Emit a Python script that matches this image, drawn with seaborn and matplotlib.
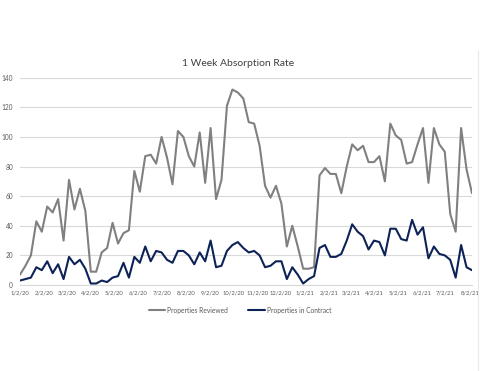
import matplotlib
matplotlib.use("Agg")
import matplotlib.pyplot as plt
from matplotlib.lines import Line2D
import seaborn as sns
import pandas as pd

start_date = "2020-01-02"
n_weeks = 84

properties_reviewed = [
    7, 13, 20, 43, 36, 53, 49, 58, 30, 71, 51, 65, 50, 9, 9, 22, 25, 42, 28, 35,
    37, 77, 63, 87, 88, 82, 100, 86, 68, 104, 100, 87, 80, 103, 69, 106, 58, 71, 121, 132,
    130, 126, 110, 109, 94, 67, 59, 67, 55, 26, 40, 26, 11, 11, 12, 74, 79, 75, 75, 62,
    80, 95, 91, 94, 83, 83, 87, 70, 109, 101, 98, 82, 83, 95, 106, 69, 106, 95, 90, 48,
    36, 106, 78, 62,
]
properties_in_contract = [
    3, 4, 5, 12, 10, 16, 8, 14, 4, 19, 14, 17, 11, 1, 1, 3, 2, 5, 6, 15,
    5, 19, 15, 26, 16, 23, 22, 17, 15, 23, 23, 20, 14, 22, 16, 30, 12, 13, 23, 27,
    29, 25, 22, 23, 20, 12, 13, 16, 16, 4, 12, 7, 1, 4, 6, 25, 27, 19, 19, 21,
    30, 41, 36, 33, 24, 30, 29, 20, 38, 38, 31, 30, 44, 34, 39, 18, 26, 21, 20, 17,
    5, 27, 12, 10,
]
series_names = ["Properties Reviewed", "Properties in Contract"]
series_colors = ["#808080", "#0d2257"]
title = "1 Week Absorption Rate"
y_ticks = [0, 20, 40, 60, 80, 100, 120, 140]

dates = pd.date_range(start_date, periods=n_weeks, freq="7D")
df = pd.concat([
    pd.DataFrame({"date": dates, "value": properties_reviewed, "series": series_names[0]}),
    pd.DataFrame({"date": dates, "value": properties_in_contract, "series": series_names[1]}),
])

sns.set_theme(style="white")
plt.rcParams["font.family"] = ["Lato", "DejaVu Sans"]

fig = plt.figure(figsize=(4.8, 3.71), dpi=100)
ax = fig.add_axes([20 / 480, 1 - 285 / 371, 452 / 480, (285 - 77.7) / 371])

sns.lineplot(data=df, x="date", y="value", hue="series",
             palette=dict(zip(series_names, series_colors)),
             linewidth=1.5, ax=ax, legend=False)

ax.set_ylim(0, 140)
ax.set_yticks(y_ticks)
ax.set_xlim(dates[0], dates[-1])
tick_dates = pd.date_range("2020-01-01", "2021-08-01", freq="MS") + pd.Timedelta(days=1)
ax.set_xticks(tick_dates)
ax.set_xticklabels([f"{d.month}/{d.day}/{d.strftime('%y')}" for d in tick_dates])
ax.grid(axis="y", color="#d9d9d9", linewidth=0.8)
ax.set_axisbelow(True)
for s in ["top", "right", "left"]:
    ax.spines[s].set_visible(False)
ax.spines["bottom"].set_color("#d9d9d9")
ax.spines["bottom"].set_linewidth(0.8)
ax.tick_params(axis="both", length=0, colors="#595959")
ax.tick_params(axis="y", pad=5, labelsize=4.7)
ax.tick_params(axis="x", pad=4, labelsize=4.2)
ax.set_xlabel("")
ax.set_ylabel("")

fig.text(238 / 480, 1 - 63 / 371, title, ha="center", va="center",
         fontsize=7.5, color="#404040")

handles = [Line2D([0], [0], color=c, linewidth=1.5) for c in series_colors]
fig.legend(handles, series_names, loc="center", bbox_to_anchor=(0.5, 1 - 310 / 371),
           ncol=2, frameon=False, fontsize=4.8, handlelength=2.5, handletextpad=0.3,
           columnspacing=3, labelcolor="#595959")

fig.add_artist(Line2D([478 / 480, 478 / 480], [0.0, 1 - 50 / 371],
                      color="#e8e8e8", linewidth=0.8, transform=fig.transFigure))

fig.savefig("out.png", dpi=100, facecolor="white")
